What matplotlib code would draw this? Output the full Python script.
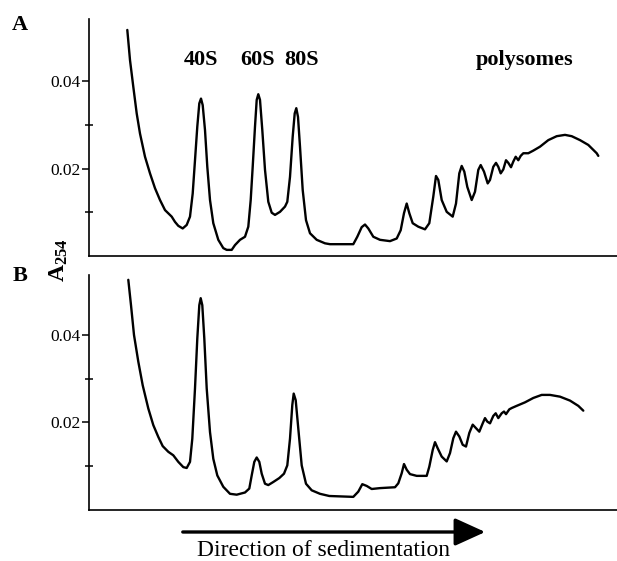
import matplotlib
matplotlib.use("Agg")
import matplotlib.pyplot as plt
from matplotlib.ticker import FixedLocator, NullFormatter

plt.rcParams['font.family'] = ['Liberation Serif', 'DejaVu Serif']
plt.rcParams['mathtext.fontset'] = 'custom'
plt.rcParams['mathtext.bf'] = 'Liberation Serif:bold'
plt.rcParams['mathtext.rm'] = 'Liberation Serif'

# Position along gradient (arbitrary units) and A254 absorbance, panel A
pos_a = [38.3, 41.0, 44.3, 47.7, 51.0, 56.0, 61.0, 66.0, 71.0, 76.0, 82.7, 86.0, 89.3, 93.7, 97.7,
         101.0, 103.7, 106.0, 108.3, 110.3, 112.0, 113.7, 116.0, 118.3, 121.0, 124.3, 129.3, 134.3,
         137.7, 142.7, 146.0, 151.0, 156.0, 159.3, 161.7, 163.7, 166.0, 167.7, 169.3, 171.0, 173.3,
         176.0, 179.3, 182.7, 186.0, 191.0, 196.0, 198.3, 201.0, 203.7, 205.7, 207.3, 209.0, 211.0,
         213.7, 217.0, 221.0, 227.7, 236.0, 241.0, 264.3, 268.3, 272.7, 276.0, 279.3, 284.3, 291.0,
         301.0, 307.7, 311.7, 315.0, 317.7, 320.3, 323.7, 329.3, 336.0, 340.3, 344.3, 347.0, 349.3,
         352.7, 357.7, 363.7, 367.0, 370.3, 372.7, 375.3, 378.3, 382.7, 386.0, 389.3, 391.7, 395.0,
         398.7, 401.0, 404.3, 407.0, 409.3, 411.7, 414.3, 417.0, 419.3, 422.0, 424.3, 426.7, 429.3,
         431.7, 434.3, 439.3, 444.3, 451.0, 459.3, 467.7, 476.0, 482.7, 491.0, 499.3, 507.7, 509.3]
abs_a = [0.0517, 0.0448, 0.0387, 0.0326, 0.0280, 0.0227, 0.0189, 0.0155, 0.0128, 0.0105, 0.0090, 0.0078, 0.0069, 0.0063, 0.0071,
         0.0090, 0.0143, 0.0219, 0.0296, 0.0349, 0.0360, 0.0345, 0.0288, 0.0204, 0.0128, 0.0075, 0.0037, 0.0018,
         0.0014, 0.0014, 0.0025, 0.0037, 0.0044, 0.0067, 0.0128, 0.0204, 0.0296, 0.0357, 0.0370, 0.0357, 0.0288,
         0.0197, 0.0124, 0.0099, 0.0094, 0.0101, 0.0113, 0.0124, 0.0181, 0.0273, 0.0326, 0.0338, 0.0318, 0.0250,
         0.0151, 0.0082, 0.0052, 0.0037, 0.0029, 0.0027, 0.0027, 0.0044, 0.0066, 0.0072, 0.0063, 0.0044, 0.0037,
         0.0034, 0.0040, 0.0059, 0.0098, 0.0120, 0.0098, 0.0075, 0.0067, 0.0061, 0.0075, 0.0136, 0.0183, 0.0174,
         0.0128, 0.0101, 0.0090, 0.0120, 0.0189, 0.0206, 0.0193, 0.0158, 0.0128, 0.0147, 0.0197, 0.0208, 0.0193,
         0.0166, 0.0174, 0.0204, 0.0213, 0.0204, 0.0189, 0.0198, 0.0219, 0.0213, 0.0203, 0.0216, 0.0227, 0.0219,
         0.0229, 0.0235, 0.0235, 0.0241, 0.0250, 0.0265, 0.0274, 0.0277, 0.0274, 0.0265, 0.0254, 0.0235, 0.0229]

# Panel B
pos_b = [39.3, 42.0, 45.0, 49.3, 53.7, 59.3, 64.3, 69.3, 73.7, 79.3, 84.3, 89.3, 94.3, 97.7, 101.0,
         103.3, 106.0, 108.3, 110.3, 111.7, 113.3, 115.3, 117.7, 121.0, 124.3, 128.3, 134.3, 141.0,
         147.7, 156.0, 160.3, 162.7, 165.3, 167.7, 170.3, 172.7, 176.0, 179.3, 184.3, 190.3, 195.0,
         198.3, 201.0, 203.3, 204.7, 206.7, 209.3, 212.7, 217.0, 222.7, 231.0, 240.3, 264.3, 269.3,
         273.3, 277.7, 282.7, 291.0, 306.0, 309.3, 312.7, 315.0, 317.7, 321.0, 327.7, 337.7, 340.3,
         343.7, 346.0, 348.7, 352.7, 357.7, 361.0, 364.3, 367.0, 370.3, 373.7, 377.0, 380.3, 383.7,
         387.0, 390.3, 393.7, 396.0, 398.3, 401.0, 404.3, 406.7, 409.3, 412.7, 415.0, 417.0, 420.3,
         422.7, 427.7, 436.0, 444.3, 452.7, 461.0, 471.0, 481.0, 489.3, 494.3]
abs_b = [0.0526, 0.0468, 0.0400, 0.0339, 0.0285, 0.0232, 0.0194, 0.0167, 0.0146, 0.0133, 0.0125, 0.0110, 0.0098, 0.0096, 0.0110,
         0.0163, 0.0278, 0.0392, 0.0468, 0.0484, 0.0468, 0.0392, 0.0278, 0.0178, 0.0117, 0.0079, 0.0053, 0.0037,
         0.0035, 0.0040, 0.0049, 0.0079, 0.0110, 0.0120, 0.0110, 0.0083, 0.0060, 0.0057, 0.0064, 0.0073, 0.0083,
         0.0102, 0.0163, 0.0240, 0.0266, 0.0251, 0.0186, 0.0102, 0.0060, 0.0045, 0.0037, 0.0032, 0.0030, 0.0042,
         0.0059, 0.0055, 0.0048, 0.0050, 0.0052, 0.0061, 0.0084, 0.0105, 0.0092, 0.0082, 0.0078, 0.0078, 0.0099,
         0.0137, 0.0155, 0.0141, 0.0122, 0.0111, 0.0130, 0.0164, 0.0179, 0.0168, 0.0149, 0.0145, 0.0176, 0.0195,
         0.0187, 0.0179, 0.0198, 0.0210, 0.0202, 0.0198, 0.0215, 0.0221, 0.0210, 0.0221, 0.0225, 0.0219, 0.0230,
         0.0233, 0.0238, 0.0246, 0.0256, 0.0263, 0.0263, 0.0259, 0.0250, 0.0238, 0.0227]

peak_labels = ["40S", "60S", "80S", "polysomes"]
peak_label_pos = [112.0, 169.0, 212.5, 436.0]
major_ticks = [0.02, 0.04]
major_labels = ["0.02", "0.04"]
minor_ticks = [0.01, 0.03]

W, H = 617, 561
fig = plt.figure(figsize=(W / 100, H / 100), dpi=100)

def px_rect(x0, y0, x1, y1):
    return [x0 / W, 1 - y1 / H, (x1 - x0) / W, (y1 - y0) / H]

axA = fig.add_axes(px_rect(89, 19, 617, 256))
axB = fig.add_axes(px_rect(89, 275, 617, 510))

for ax, xs, ys, top in ((axA, pos_a, abs_a, 0.0542), (axB, pos_b, abs_b, 0.0537)):
    ax.plot(xs, ys, color='black', lw=1.7, solid_joinstyle='round', solid_capstyle='round')
    ax.set_xlim(0, 528)
    ax.set_ylim(0, top)
    for s in ('top', 'right'):
        ax.spines[s].set_visible(False)
    for s in ('left', 'bottom'):
        ax.spines[s].set_linewidth(1.2)
    ax.set_xticks([])
    ax.yaxis.set_major_locator(FixedLocator(major_ticks))
    ax.set_yticklabels(major_labels)
    ax.yaxis.set_minor_locator(FixedLocator(minor_ticks))
    ax.yaxis.set_minor_formatter(NullFormatter())
    ax.tick_params(axis='y', which='major', direction='out', length=5, width=1.1, labelsize=12.5, pad=1)
    ax.tick_params(axis='y', which='minor', direction='inout', length=6, width=1.1)
    ax.patch.set_alpha(0)

for lab, xp in zip(peak_labels, peak_label_pos):
    axA.text(xp, 0.0448, lab, ha='center', va='center', fontsize=16, fontweight='bold')

fig.text(20 / W, 1 - 25 / H, "A", ha='center', va='center', fontsize=16, fontweight='bold')
fig.text(20 / W, 1 - 276 / H, "B", ha='center', va='center', fontsize=16, fontweight='bold')
fig.text(59 / W, 1 - 260 / H, r"$\mathbf{A_{254}}$", rotation=90, ha='center', va='center', fontsize=17)

fig.patches.append(matplotlib.patches.FancyArrowPatch(
    (180 / W, 1 - 532 / H), (488 / W, 1 - 532 / H), transform=fig.transFigure,
    arrowstyle='-|>,head_length=1.1,head_width=0.5', mutation_scale=17, lw=2.4, color='black'))
fig.text(324 / W, 1 - 551 / H, "Direction of sedimentation", ha='center', va='center', fontsize=17)

fig.savefig("out.png", dpi=100)
